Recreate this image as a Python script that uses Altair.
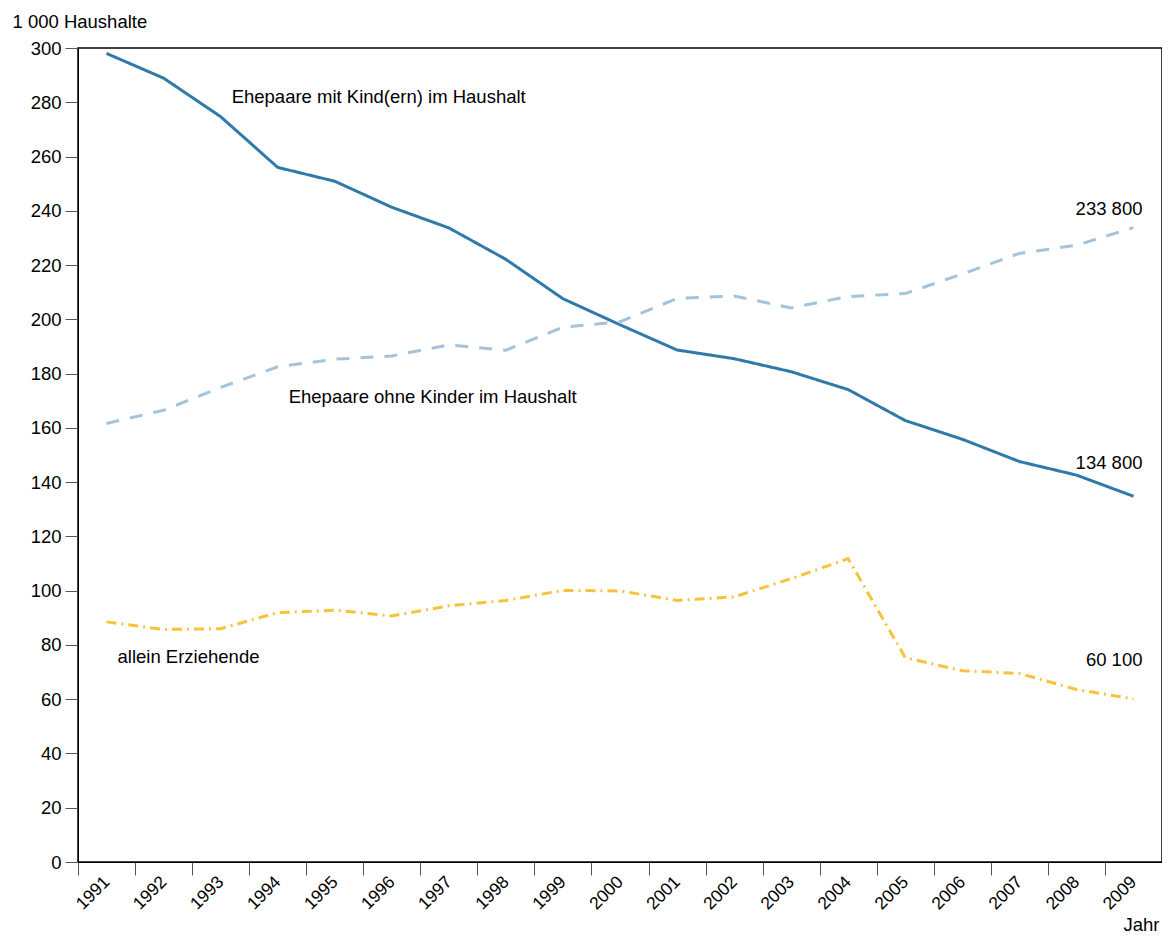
import altair as alt
import pandas as pd

years = [str(y) for y in range(1991, 2010)]
mit_kind = [298.0, 288.9, 274.7, 256.0, 250.9, 241.3, 233.7, 222.1, 207.6, 198.0,
            188.7, 185.5, 180.7, 174.1, 162.7, 155.8, 147.6, 142.6, 134.8]
ohne_kinder = [161.6, 166.5, 174.9, 182.5, 185.3, 186.5, 190.6, 188.6, 197.1, 199.1,
               207.7, 208.6, 204.2, 208.4, 209.5, 216.7, 224.3, 227.3, 233.8]
allein = [88.5, 85.7, 86.0, 91.9, 92.8, 90.7, 94.4, 96.4, 100.1, 99.9,
          96.4, 97.7, 104.4, 111.8, 75.3, 70.5, 69.5, 63.6, 60.1]

series_names = ["Ehepaare mit Kind(ern) im Haushalt",
                "Ehepaare ohne Kinder im Haushalt",
                "allein Erziehende"]
series_colors = ["#2f7aa9", "#a3c4db", "#f9c23c"]
series_dash = [[1, 0], [13, 11], [10, 5, 2, 5]]

rows = []
for name, vals in zip(series_names, [mit_kind, ohne_kinder, allein]):
    for y, v in zip(years, vals):
        rows.append({"Jahr": y, "Wert": v, "Reihe": name})
df = pd.DataFrame(rows)

# series name labels (left-aligned)
name_labels = pd.DataFrame({
    "Jahr": ["1993", "1994", "1991"],
    "Wert": [282.0, 171.3, 75.4],
    "text": series_names,
})
# end value labels (right-aligned)
end_labels = pd.DataFrame({
    "Jahr": ["2009", "2009", "2009"],
    "Wert": [240.8, 147.0, 74.6],
    "text": ["233 800", "134 800", "60 100"],
})

FONT = "Liberation Sans"
FS = 18.5

x_enc = alt.X("Jahr:O", sort=years,
              scale=alt.Scale(domain=years, paddingInner=0, paddingOuter=0),
              axis=alt.Axis(title="Jahr", labelAngle=-45, labelAlign="right",
                            labelBaseline="middle", labelPadding=4,
                            tickBand="extent", tickSize=13, tickColor="#555555",
                            domainColor="#000000", labelFontSize=17.5,
                            labelColor="#000000", labelFont=FONT,
                            titleFont=FONT, titleFontSize=FS, titleFontWeight="normal",
                            titleColor="#000000",
                            titleAnchor="end", titleAlign="right", titleBaseline="alphabetic",
                            titleX=1081, titleY=68, grid=False))
y_enc = alt.Y("Wert:Q",
              scale=alt.Scale(domain=[0, 300], nice=False),
              axis=alt.Axis(title="1 000 Haushalte", values=list(range(0, 301, 20)),
                            tickSize=13, tickColor="#555555", domainColor="#000000",
                            labelFontSize=FS, labelColor="#000000", labelFont=FONT,
                            labelPadding=4,
                            titleFont=FONT, titleFontSize=FS, titleFontWeight="normal",
                            titleColor="#000000",
                            titleAngle=0, titleAlign="left", titleBaseline="alphabetic",
                            titleX=-66, titleY=-21, grid=False))

lines = alt.Chart(df).mark_line(strokeWidth=3, strokeCap="butt").encode(
    x=x_enc,
    y=y_enc,
    color=alt.Color("Reihe:N", scale=alt.Scale(domain=series_names, range=series_colors), legend=None),
    strokeDash=alt.StrokeDash("Reihe:N", scale=alt.Scale(domain=series_names, range=series_dash), legend=None),
)

names = alt.Chart(name_labels).mark_text(align="left", baseline="middle", font=FONT,
                                         fontSize=FS, color="#000000", dx=11).encode(
    x=alt.X("Jahr:O", sort=years),
    y="Wert:Q",
    text="text:N",
)

ends = alt.Chart(end_labels).mark_text(align="right", baseline="middle", font=FONT,
                                       fontSize=FS, color="#000000", dx=9).encode(
    x=alt.X("Jahr:O", sort=years),
    y="Wert:Q",
    text="text:N",
)

chart = alt.layer(lines, names, ends).properties(
    width=1084, height=814,
    background="white",
    autosize=alt.AutoSizeParams(type="none"),
    padding={"left": 70, "top": 40, "right": 0, "bottom": 71},
).configure_view(stroke="#000000", strokeWidth=1.5)

chart.save("out.html", embed_options={"renderer": "svg", "actions": False})
